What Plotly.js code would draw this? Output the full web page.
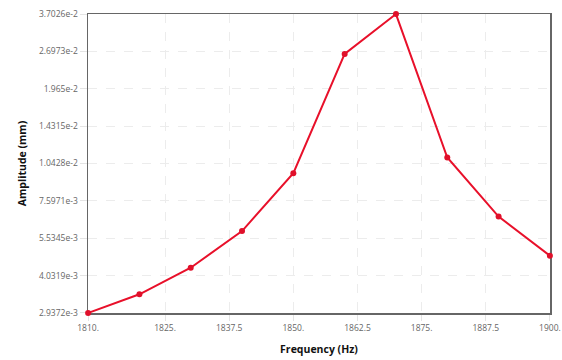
<!DOCTYPE html>
<html>
<head>
<meta charset="utf-8">
<script src="https://cdn.plot.ly/plotly-3.0.1.min.js"></script>
<style>html,body{margin:0;padding:0;background:#fff;}#chart{width:562px;height:360px;}</style>
</head>
<body>
<div id="chart"></div>
<script>
const frequency = [1810, 1820, 1830, 1840, 1850, 1860, 1870, 1880, 1890, 1900];
const amplitude = [2.9372e-3, 3.44e-3, 4.31e-3, 5.88e-3, 9.60e-3, 2.64e-2, 3.7026e-2, 1.097e-2, 6.65e-3, 4.77e-3];
const xTickVals = [1810, 1825, 1837.5, 1850, 1862.5, 1875, 1887.5, 1900];
const xTickText = ["1810.", "1825.", "1837.5", "1850.", "1862.5", "1875.", "1887.5", "1900."];
const yTickVals = [2.9372e-3, 4.0319e-3, 5.5345e-3, 7.5971e-3, 1.0428e-2, 1.4315e-2, 1.965e-2, 2.6973e-2, 3.7026e-2];
const yTickText = ["2.9372e-3", "4.0319e-3", "5.5345e-3", "7.5971e-3", "1.0428e-2", "1.4315e-2", "1.965e-2", "2.6973e-2", "3.7026e-2"];

const trace = {
  x: frequency, y: amplitude, type: 'scatter', mode: 'lines+markers',
  line: {color: '#e8102a', width: 2},
  marker: {color: '#e0102a', size: 6},
  cliponaxis: false, hoverinfo: 'none'
};
const layout = {
  width: 562, height: 360,
  margin: {l: 88, r: 12, t: 14, b: 47},
  paper_bgcolor: '#fff', plot_bgcolor: '#fff',
  font: {family: 'Open Sans, sans-serif', size: 8.5, color: '#666'},
  showlegend: false,
  xaxis: {
    range: [1809.98, 1900.02], tickmode: 'array', tickvals: xTickVals, ticktext: xTickText,
    showgrid: true, gridcolor: '#ececec', griddash: 'dash', zeroline: false,
    showline: true, linecolor: '#666', linewidth: 1.5, mirror: true, layer: 'below traces',
    ticks: 'outside', ticklen: 6, tickcolor: '#e4e4e4',
    tickfont: {size: 8.5, color: '#666'},
    title: {text: 'Frequency (Hz)', font: {size: 10.5, color: '#111', family: 'Open Sans, sans-serif', weight: 'bold'}, standoff: 14}
  },
  yaxis: {
    type: 'log', range: [Math.log10(2.9372e-3) - 0.0003, Math.log10(3.7026e-2) + 0.0003],
    tickmode: 'array', tickvals: yTickVals, ticktext: yTickText,
    showgrid: true, gridcolor: '#ececec', griddash: 'dash', zeroline: false,
    showline: true, linecolor: '#666', linewidth: 1.5, mirror: true, layer: 'below traces',
    ticks: 'outside', ticklen: 7, tickcolor: '#e4e4e4',
    tickfont: {size: 8.5, color: '#666'},
    title: {text: 'Amplitude (mm)', font: {size: 10.5, color: '#111', family: 'Open Sans, sans-serif', weight: 'bold'}, standoff: 10}
  }
};
Plotly.newPlot('chart', [trace], layout, {displayModeBar: false, staticPlot: true});
</script>
</body>
</html>
